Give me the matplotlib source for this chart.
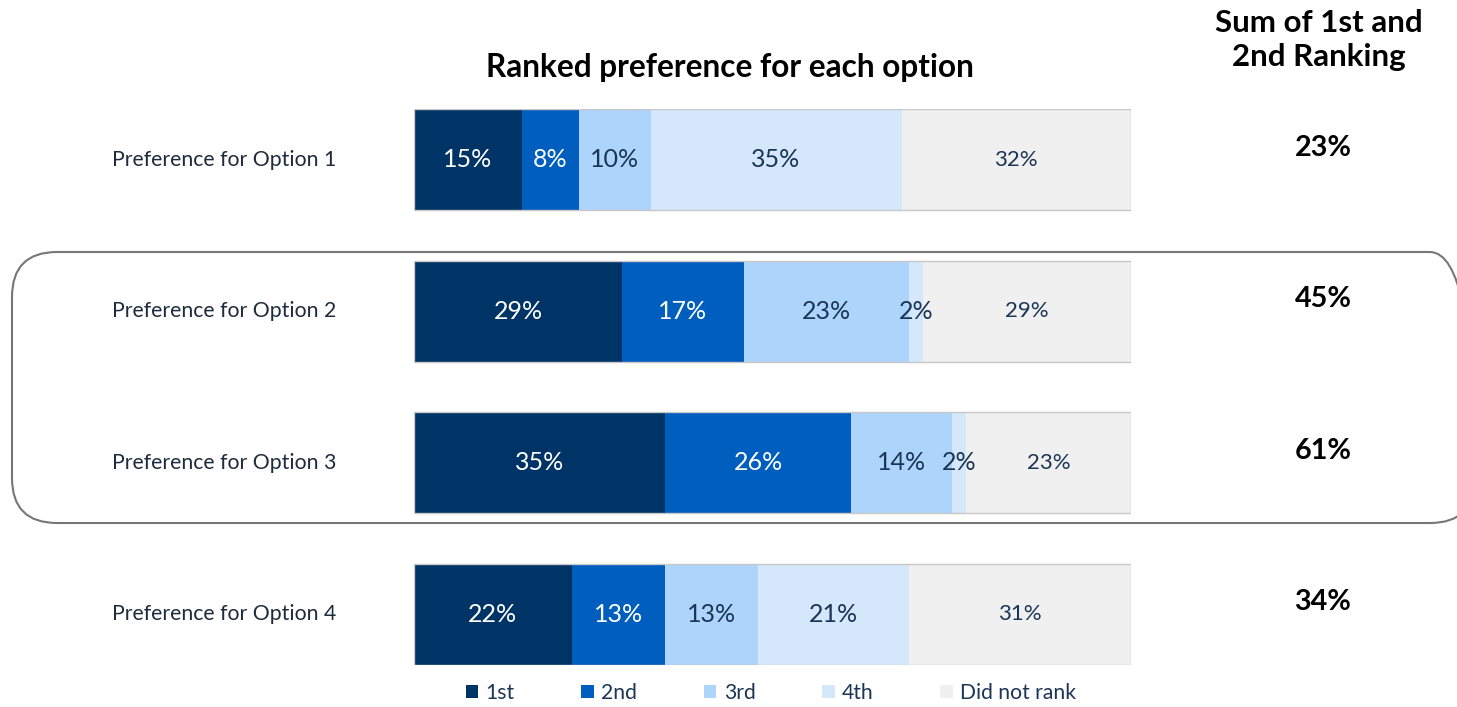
import matplotlib.pyplot as plt
from matplotlib.patches import FancyBboxPatch, Patch
import matplotlib.transforms as mtransforms

plt.rcParams['font.family'] = ['Lato', 'DejaVu Sans']

options = ["Preference for Option 1", "Preference for Option 2",
           "Preference for Option 3", "Preference for Option 4"]
ranks = ["1st", "2nd", "3rd", "4th", "Did not rank"]
first = [15, 29, 35, 22]
second = [8, 17, 26, 13]
third = [10, 23, 14, 13]
fourth = [35, 2, 2, 21]
not_ranked = [32, 29, 23, 31]
sum_top2 = [23, 45, 61, 34]

colors = ["#003466", "#005EBE", "#ADD4FA", "#D5E8FB", "#F0F0F0"]
text_colors = ["white", "white", "#1B3556", "#1B3556", "#1B3556"]
label_sizes = [18, 18, 18, 18, 16]

W, H = 1457, 707
fig = plt.figure(figsize=(W / 100, H / 100), dpi=100)
ax = fig.add_axes([414 / W, 1 - 665 / H, (1131 - 414) / W, (665 - 109) / H])

series = [first, second, third, fourth, not_ranked]
ypos = list(range(len(options)))
bh = 0.666
left = [0] * len(options)
for vals, col, tc, fs in zip(series, colors, text_colors, label_sizes):
    bars = ax.barh(ypos, vals, left=left, height=bh, color=col, edgecolor='none')
    for b, v in zip(bars, vals):
        ax.text(b.get_x() + b.get_width() / 2, b.get_y() + b.get_height() / 2,
                f"{v}%", ha='center', va='center', color=tc, fontsize=fs)
    left = [l + v for l, v in zip(left, vals)]

# thin outline around each row
ax.barh(ypos, left, height=bh, fill=False, edgecolor='#C8C8C8', linewidth=1)

ax.set_xlim(0, 100)
ax.set_ylim(3.334, -0.334)
ax.axis('off')

# row labels
trans_lbl = mtransforms.blended_transform_factory(fig.transFigure, ax.transData)
for y, name in zip(ypos, options):
    fig.text(112 / W, y, name, transform=trans_lbl, ha='left', va='center',
             fontsize=15.3, color='#1E2B3C')

# sum column
for y, s in zip(ypos, sum_top2):
    fig.text(1323 / W, y - 0.08, f"{s}%", transform=trans_lbl, ha='center',
             va='center', fontsize=20.7, fontweight='bold', color='black')

fig.text(1319 / W, 1 - 40 / H, "Sum of 1st and\n2nd Ranking", ha='center',
         va='center', fontsize=22.5, fontweight='bold', linespacing=1.3)
fig.text(730 / W, 1 - 68 / H, "Ranked preference for each option", ha='center',
         va='center', fontsize=22.8, fontweight='bold')

# rounded highlight box around options 2 and 3
r = 45
box = FancyBboxPatch((12 + r, H - 523 + r), 1475 - 12 - 2 * r, 523 - 252 - 2 * r,
                     boxstyle=f"round,pad={r}", transform=None,
                     facecolor='none', edgecolor='#777777', linewidth=1.5)
fig.patches.append(box)

handles = [Patch(facecolor=c, edgecolor='none') for c in colors]
fig.legend(handles, ranks, loc='center', bbox_to_anchor=(771 / W, 1 - 693 / H),
           ncol=5, frameon=False, fontsize=15.2, handlelength=0.6,
           handleheight=0.6, handletextpad=0.35, columnspacing=3.15,
           labelcolor='#1B3556')

fig.savefig("out.png", dpi=100)
